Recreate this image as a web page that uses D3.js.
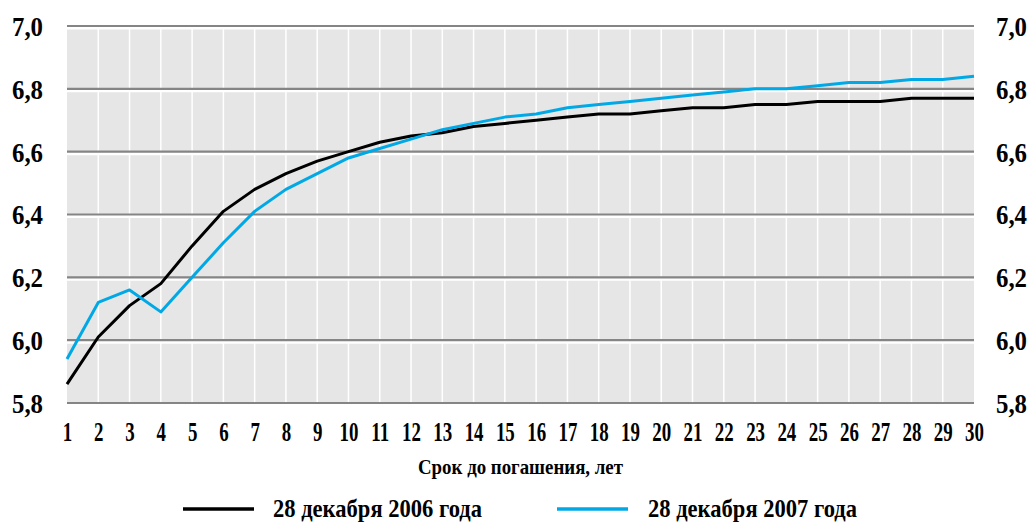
<!DOCTYPE html>
<html>
<head>
<meta charset="utf-8">
<script src="https://cdn.jsdelivr.net/npm/d3@7"></script>
<style>
  html, body { margin: 0; padding: 0; background: #fff; }
  svg { display: block; }
  text { font-family: "Liberation Serif", "DejaVu Serif", "Noto Serif", serif; font-weight: bold; fill: #000; }
</style>
</head>
<body>
<svg id="chart" width="1033" height="523"></svg>
<script>
const years = d3.range(1, 31);
const series2006 = [5.86, 6.01, 6.11, 6.18, 6.30, 6.41, 6.48, 6.53, 6.57, 6.60,
                    6.63, 6.65, 6.66, 6.68, 6.69, 6.70, 6.71, 6.72, 6.72, 6.73,
                    6.74, 6.74, 6.75, 6.75, 6.76, 6.76, 6.76, 6.77, 6.77, 6.77];
const series2007 = [5.94, 6.12, 6.16, 6.09, 6.20, 6.31, 6.41, 6.48, 6.53, 6.58,
                    6.61, 6.64, 6.67, 6.69, 6.71, 6.72, 6.74, 6.75, 6.76, 6.77,
                    6.78, 6.79, 6.80, 6.80, 6.81, 6.82, 6.82, 6.83, 6.83, 6.84];
const yTicks = [5.8, 6.0, 6.2, 6.4, 6.6, 6.8, 7.0];
const seriesNames = ["28 декабря 2006 года", "28 декабря 2007 года"];
const seriesColors = ["#000000", "#00a9e6"];
const xTitle = "Срок до погашения, лет";

const svg = d3.select("#chart");
const pL = 67, pR = 974, pT = 26, pB = 403;

const x = d3.scaleLinear().domain([1, 30]).range([pL, pR]);
const y = d3.scaleLinear().domain([5.8, 7.0]).range([pB, pT]);
const fmt = v => v.toFixed(1).replace(".", ",");

// condense text horizontally while keeping it as real text
function condense(sel, factor) {
  sel.each(function () {
    const len = this.getComputedTextLength();
    d3.select(this).attr("textLength", len * factor).attr("lengthAdjust", "spacingAndGlyphs");
  });
}

// plot background
svg.append("rect")
  .attr("x", pL).attr("y", pT)
  .attr("width", pR - pL).attr("height", pB - pT)
  .attr("fill", "#e6e6e6");

// vertical white grid lines
svg.append("g").selectAll("line").data(years.slice(1, -1)).join("line")
  .attr("x1", d => x(d)).attr("x2", d => x(d))
  .attr("y1", pT).attr("y2", pB)
  .attr("stroke", "#ffffff").attr("stroke-width", 1.5);

// horizontal grid lines (white highlight + grey line)
const hg = svg.append("g");
hg.selectAll("line.w").data(yTicks).join("line").attr("class", "w")
  .attr("x1", pL).attr("x2", pR)
  .attr("y1", d => y(d) + 2).attr("y2", d => y(d) + 2)
  .attr("stroke", "#ffffff").attr("stroke-width", 3);
hg.selectAll("line.g").data(yTicks).join("line").attr("class", "g")
  .attr("x1", pL).attr("x2", pR)
  .attr("y1", d => y(d)).attr("y2", d => y(d))
  .attr("stroke", "#858585").attr("stroke-width", 2.2);

// left and right axes labels
const yAxisL = d3.axisLeft(y).tickValues(yTicks).tickFormat(fmt).tickSize(0).tickPadding(24);
const yAxisR = d3.axisRight(y).tickValues(yTicks).tickFormat(fmt).tickSize(0).tickPadding(22);
const gL = svg.append("g").attr("transform", `translate(${pL},0)`).call(yAxisL);
const gR = svg.append("g").attr("transform", `translate(${pR},0)`).call(yAxisR);
[gL, gR].forEach(g => {
  g.attr("font-family", null);
  g.select(".domain").remove();
  g.selectAll("text").attr("font-weight", "bold")
    .attr("font-size", 27).attr("fill", "#000").attr("dy", "0.35em")
    .attr("textLength", 31).attr("lengthAdjust", "spacingAndGlyphs");
});

// x axis labels
const xAxis = d3.axisBottom(x).tickValues(years).tickFormat(d3.format("d")).tickSize(0).tickPadding(19);
const gX = svg.append("g").attr("transform", `translate(0,${pB})`).call(xAxis);
gX.attr("font-family", null);
gX.select(".domain").remove();
gX.selectAll("text").attr("font-weight", "bold")
  .attr("font-size", 27).attr("fill", "#000");
condense(gX.selectAll("text"), 0.7);

// x title
svg.append("text")
  .attr("x", (pL + pR) / 2).attr("y", 474)
  .attr("text-anchor", "middle")
  .attr("font-size", 22)
  .attr("textLength", 205).attr("lengthAdjust", "spacingAndGlyphs")
  .text(xTitle);

// lines
const line = d3.line().x((d, i) => x(years[i])).y(d => y(d));
[series2006, series2007].forEach((s, i) => {
  svg.append("path").datum(s)
    .attr("d", line)
    .attr("fill", "none")
    .attr("stroke", seriesColors[i])
    .attr("stroke-width", 3)
    .attr("stroke-linejoin", "round");
});

// legend
const legendX = [183, 557];
const legendTextX = [273, 648];
const legendY = 509;
seriesNames.forEach((name, i) => {
  svg.append("line")
    .attr("x1", legendX[i]).attr("x2", legendX[i] + 71)
    .attr("y1", legendY).attr("y2", legendY)
    .attr("stroke", seriesColors[i]).attr("stroke-width", 3.5);
  svg.append("text")
    .attr("x", legendTextX[i]).attr("y", legendY + 8)
    .attr("font-size", 26)
    .attr("textLength", 209).attr("lengthAdjust", "spacingAndGlyphs")
    .text(name);
});
</script>
</body>
</html>
